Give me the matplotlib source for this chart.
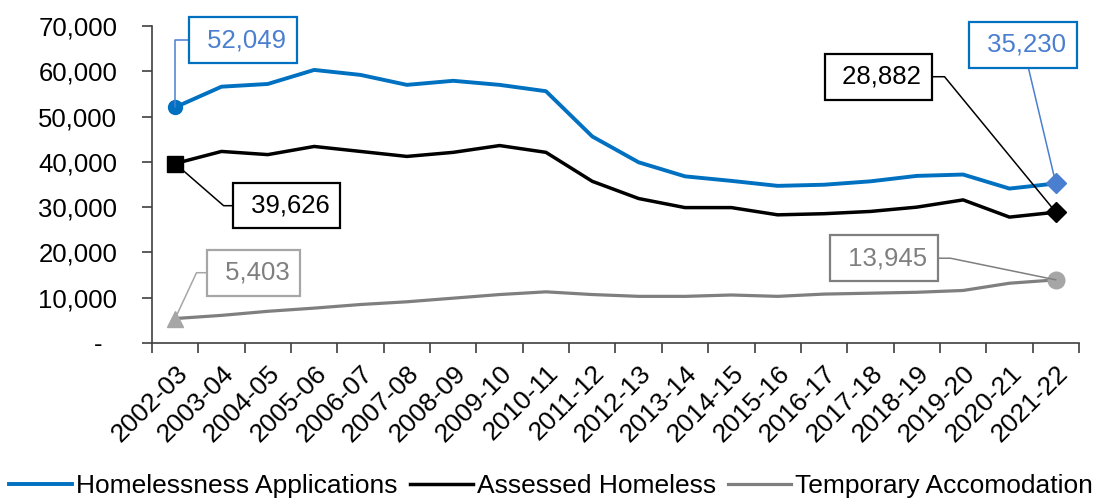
import numpy as np
import matplotlib.pyplot as plt
from matplotlib.ticker import FuncFormatter

plt.rcParams['font.family'] = ['Liberation Sans', 'DejaVu Sans']

# ── data ──────────────────────────────────────────────────────────────────────
years = ['2002-03', '2003-04', '2004-05', '2005-06', '2006-07', '2007-08',
         '2008-09', '2009-10', '2010-11', '2011-12', '2012-13', '2013-14',
         '2014-15', '2015-16', '2016-17', '2017-18', '2018-19', '2019-20',
         '2020-21', '2021-22']

applications = [52049, 56600, 57200, 60300, 59200, 57000, 57900, 57000, 55600,
                45600, 39900, 36800, 35800, 34700, 34950, 35700, 36900, 37200,
                34100, 35230]
assessed = [39626, 42300, 41600, 43400, 42300, 41200, 42100, 43600, 42100,
            35700, 31900, 29900, 29900, 28300, 28550, 29050, 30000, 31600,
            27800, 28882]
temporary = [5403, 6100, 7000, 7700, 8500, 9100, 9900, 10700, 11300,
             10700, 10300, 10300, 10600, 10300, 10800, 11000, 11200, 11600,
             13200, 13945]

BLUE = '#0070C0'
BLUE_LT = '#4A7FD0'
BLACK = '#000000'
GREY = '#7F7F7F'
GREY_LT = '#A6A6A6'

# ── figure ────────────────────────────────────────────────────────────────────
fig = plt.figure(figsize=(10.98, 5.0), dpi=100)
ax = fig.add_axes([0.1384, 0.314, 0.8443, 0.634])

x = np.arange(len(years))
ax.plot(x, applications, color=BLUE, lw=2.8, solid_joinstyle='round',
        label='Homelessness Applications')
ax.plot(x, assessed, color=BLACK, lw=2.5, solid_joinstyle='round',
        label='Assessed Homeless')
ax.plot(x, temporary, color=GREY, lw=2.3, solid_joinstyle='round',
        label='Temporary Accomodation')

# end point markers
ax.plot(x[0], applications[0], 'o', color=BLUE, ms=10, zorder=5)
ax.plot(x[-1], applications[-1], 'D', color=BLUE_LT, ms=10, zorder=5)
ax.plot(x[0], assessed[0], 's', color=BLACK, ms=12, zorder=5)
ax.plot(x[-1], assessed[-1], 'D', color=BLACK, ms=10, zorder=5)
ax.plot(x[0], temporary[0], '^', color=GREY_LT, ms=12, zorder=5)
ax.plot(x[-1], temporary[-1], 'o', color=GREY_LT, ms=12, zorder=5)


def label(i, series, text_xy, text_col, edge_col, line_col, conn):
    ax.annotate(f' {series[i]:,}', xy=(i, series[i]), xytext=text_xy,
                textcoords='data', fontsize=18.5, color=text_col,
                ha='center', va='center',
                bbox=dict(boxstyle='square,pad=0.42', fc='white',
                          ec=edge_col, lw=1.6),
                arrowprops=dict(arrowstyle='-', color=line_col, lw=1.1,
                                shrinkA=0, shrinkB=0, connectionstyle=conn),
                zorder=6)


label(0, applications, (1.47, 66860), BLUE_LT, BLUE, BLUE_LT,
      'angle,angleA=0,angleB=90,rad=0')
label(0, assessed, (2.40, 30320), BLACK, BLACK, BLACK,
      'angle,angleA=0,angleB=-41,rad=0')
label(0, temporary, (1.69, 15520), GREY, GREY_LT, GREY_LT,
      'angle,angleA=0,angleB=65,rad=0')
label(19, applications, (18.29, 65860), BLUE_LT, BLUE, BLUE_LT, 'arc3')
label(19, assessed, (15.17, 58800), BLACK, BLACK, BLACK,
      'angle,angleA=0,angleB=-50.6,rad=0')
label(19, temporary, (15.30, 18720), GREY, GREY, GREY,
      'angle,angleA=0,angleB=-11.6,rad=0')

# ── axes ──────────────────────────────────────────────────────────────────────
ax.set_xlim(-0.5, len(years) - 0.5)
ax.set_ylim(0, 70000)
ax.set_yticks(np.arange(0, 70001, 10000))
ax.yaxis.set_major_formatter(
    FuncFormatter(lambda v, p: '-  ' if v == 0 else f'{int(v):,}'))
ax.tick_params(axis='y', length=7, width=1.2, pad=18, labelsize=18.5,
               color='#404040')

ax.set_xticks(x)
ax.set_xticklabels(years, rotation=45, ha='right', rotation_mode='anchor')
ax.set_xticks(np.arange(-0.5, len(years), 1), minor=True)
ax.tick_params(axis='x', which='major', length=0, pad=13, labelsize=19)
ax.tick_params(axis='x', which='minor', length=7, width=1.2, color='#404040')

for s in ['top', 'right']:
    ax.spines[s].set_visible(False)
for s in ['left', 'bottom']:
    ax.spines[s].set_color('#404040')
    ax.spines[s].set_linewidth(1.2)

fig.legend(loc='center', bbox_to_anchor=(0.502, 0.028), ncol=3, frameon=False,
           fontsize=19, handlelength=2.4, handletextpad=0.15,
           columnspacing=0.45, borderaxespad=0)

fig.savefig('out.png', dpi=100)
